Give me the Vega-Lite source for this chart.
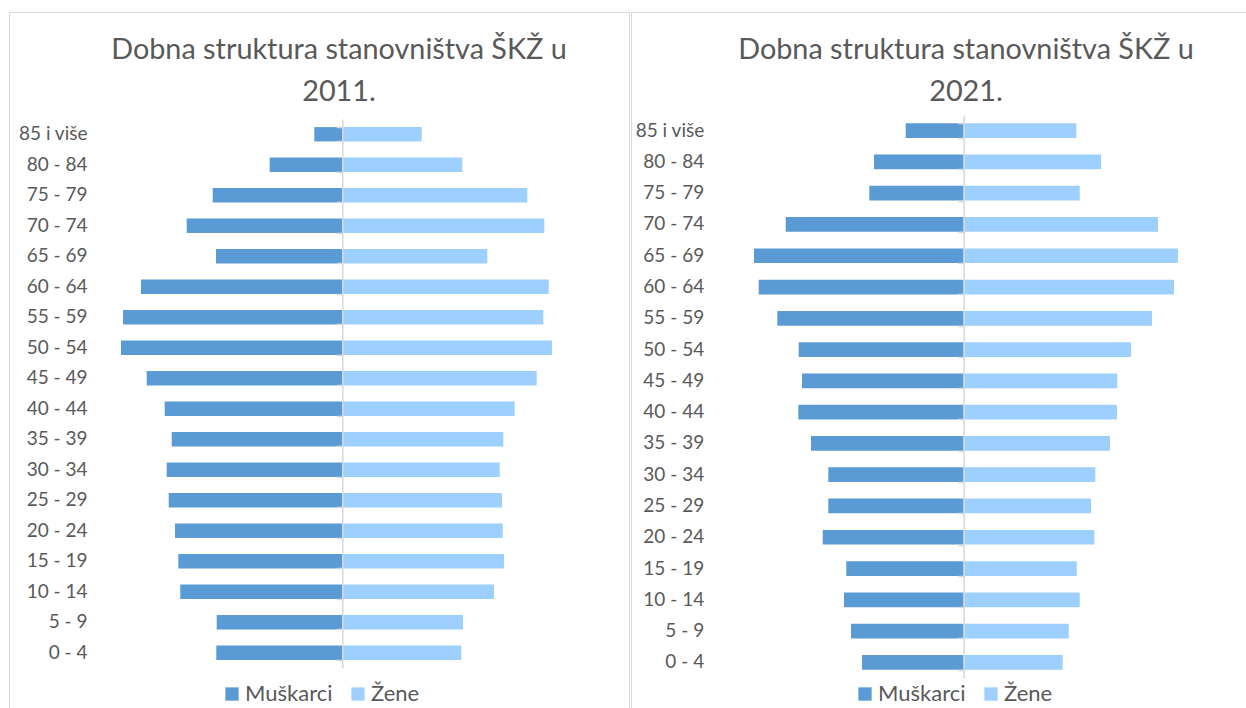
{
  "$schema": "https://vega.github.io/schema/vega-lite/v6.json",
  "padding": {"left": 8, "top": 11, "right": 0, "bottom": 0},
  "background": "white",
  "spacing": 0,
  "config": {
    "font": "Lato",
    "view": {"stroke": "#d9d9d9", "strokeWidth": 1},
    "title": {"font": "Lato", "fontSize": 28.8, "fontWeight": 400, "color": "#595959", "lineHeight": 42},
    "axis": {"labelFont": "Lato", "labelFontSize": 19, "labelColor": "#595959", "grid": false},
    "legend": {"labelFont": "Lato", "labelFontSize": 22, "labelColor": "#595959", "symbolType": "square", "symbolSize": 177, "symbolStrokeWidth": 0, "labelOffset": 2, "columnPadding": 14, "padding": 0}
  },
  "data": {"values": [
    {"godina": 2011, "dob": "85 i više", "spol": "Muškarci", "broj": 28},
    {"godina": 2011, "dob": "80 - 84", "spol": "Muškarci", "broj": 72.6},
    {"godina": 2011, "dob": "75 - 79", "spol": "Muškarci", "broj": 129.6},
    {"godina": 2011, "dob": "70 - 74", "spol": "Muškarci", "broj": 155.6},
    {"godina": 2011, "dob": "65 - 69", "spol": "Muškarci", "broj": 126.3},
    {"godina": 2011, "dob": "60 - 64", "spol": "Muškarci", "broj": 201.3},
    {"godina": 2011, "dob": "55 - 59", "spol": "Muškarci", "broj": 219.3},
    {"godina": 2011, "dob": "50 - 54", "spol": "Muškarci", "broj": 221.3},
    {"godina": 2011, "dob": "45 - 49", "spol": "Muškarci", "broj": 195.6},
    {"godina": 2011, "dob": "40 - 44", "spol": "Muškarci", "broj": 177.6},
    {"godina": 2011, "dob": "35 - 39", "spol": "Muškarci", "broj": 170.6},
    {"godina": 2011, "dob": "30 - 34", "spol": "Muškarci", "broj": 175.6},
    {"godina": 2011, "dob": "25 - 29", "spol": "Muškarci", "broj": 173.6},
    {"godina": 2011, "dob": "20 - 24", "spol": "Muškarci", "broj": 167.3},
    {"godina": 2011, "dob": "15 - 19", "spol": "Muškarci", "broj": 164},
    {"godina": 2011, "dob": "10 - 14", "spol": "Muškarci", "broj": 162},
    {"godina": 2011, "dob": "5 - 9", "spol": "Muškarci", "broj": 125.6},
    {"godina": 2011, "dob": "0 - 4", "spol": "Muškarci", "broj": 126},
    {"godina": 2011, "dob": "85 i više", "spol": "Žene", "broj": 79.4},
    {"godina": 2011, "dob": "80 - 84", "spol": "Žene", "broj": 120},
    {"godina": 2011, "dob": "75 - 79", "spol": "Žene", "broj": 185},
    {"godina": 2011, "dob": "70 - 74", "spol": "Žene", "broj": 202},
    {"godina": 2011, "dob": "65 - 69", "spol": "Žene", "broj": 145},
    {"godina": 2011, "dob": "60 - 64", "spol": "Žene", "broj": 206.4},
    {"godina": 2011, "dob": "55 - 59", "spol": "Žene", "broj": 201},
    {"godina": 2011, "dob": "50 - 54", "spol": "Žene", "broj": 209.7},
    {"godina": 2011, "dob": "45 - 49", "spol": "Žene", "broj": 194.4},
    {"godina": 2011, "dob": "40 - 44", "spol": "Žene", "broj": 172.4},
    {"godina": 2011, "dob": "35 - 39", "spol": "Žene", "broj": 161},
    {"godina": 2011, "dob": "30 - 34", "spol": "Žene", "broj": 157.4},
    {"godina": 2011, "dob": "25 - 29", "spol": "Žene", "broj": 159.7},
    {"godina": 2011, "dob": "20 - 24", "spol": "Žene", "broj": 160.4},
    {"godina": 2011, "dob": "15 - 19", "spol": "Žene", "broj": 161.7},
    {"godina": 2011, "dob": "10 - 14", "spol": "Žene", "broj": 151.7},
    {"godina": 2011, "dob": "5 - 9", "spol": "Žene", "broj": 120.7},
    {"godina": 2011, "dob": "0 - 4", "spol": "Žene", "broj": 119},
    {"godina": 2021, "dob": "85 i više", "spol": "Muškarci", "broj": 58},
    {"godina": 2021, "dob": "80 - 84", "spol": "Muškarci", "broj": 89.7},
    {"godina": 2021, "dob": "75 - 79", "spol": "Muškarci", "broj": 94.4},
    {"godina": 2021, "dob": "70 - 74", "spol": "Muškarci", "broj": 178},
    {"godina": 2021, "dob": "65 - 69", "spol": "Muškarci", "broj": 209.7},
    {"godina": 2021, "dob": "60 - 64", "spol": "Muškarci", "broj": 205},
    {"godina": 2021, "dob": "55 - 59", "spol": "Muškarci", "broj": 186.4},
    {"godina": 2021, "dob": "50 - 54", "spol": "Muškarci", "broj": 165},
    {"godina": 2021, "dob": "45 - 49", "spol": "Muškarci", "broj": 161.7},
    {"godina": 2021, "dob": "40 - 44", "spol": "Muškarci", "broj": 165.4},
    {"godina": 2021, "dob": "35 - 39", "spol": "Muškarci", "broj": 152.7},
    {"godina": 2021, "dob": "30 - 34", "spol": "Muškarci", "broj": 135.4},
    {"godina": 2021, "dob": "25 - 29", "spol": "Muškarci", "broj": 135.4},
    {"godina": 2021, "dob": "20 - 24", "spol": "Muškarci", "broj": 141},
    {"godina": 2021, "dob": "15 - 19", "spol": "Muškarci", "broj": 117.4},
    {"godina": 2021, "dob": "10 - 14", "spol": "Muškarci", "broj": 119.7},
    {"godina": 2021, "dob": "5 - 9", "spol": "Muškarci", "broj": 112.7},
    {"godina": 2021, "dob": "0 - 4", "spol": "Muškarci", "broj": 101.7},
    {"godina": 2021, "dob": "85 i više", "spol": "Žene", "broj": 112.6},
    {"godina": 2021, "dob": "80 - 84", "spol": "Žene", "broj": 137.3},
    {"godina": 2021, "dob": "75 - 79", "spol": "Žene", "broj": 116},
    {"godina": 2021, "dob": "70 - 74", "spol": "Žene", "broj": 194.3},
    {"godina": 2021, "dob": "65 - 69", "spol": "Žene", "broj": 214.3},
    {"godina": 2021, "dob": "60 - 64", "spol": "Žene", "broj": 210.3},
    {"godina": 2021, "dob": "55 - 59", "spol": "Žene", "broj": 188.3},
    {"godina": 2021, "dob": "50 - 54", "spol": "Žene", "broj": 167.3},
    {"godina": 2021, "dob": "45 - 49", "spol": "Žene", "broj": 153.6},
    {"godina": 2021, "dob": "40 - 44", "spol": "Žene", "broj": 153.3},
    {"godina": 2021, "dob": "35 - 39", "spol": "Žene", "broj": 146.3},
    {"godina": 2021, "dob": "30 - 34", "spol": "Žene", "broj": 131.6},
    {"godina": 2021, "dob": "25 - 29", "spol": "Žene", "broj": 127.3},
    {"godina": 2021, "dob": "20 - 24", "spol": "Žene", "broj": 130.6},
    {"godina": 2021, "dob": "15 - 19", "spol": "Žene", "broj": 113},
    {"godina": 2021, "dob": "10 - 14", "spol": "Žene", "broj": 116},
    {"godina": 2021, "dob": "5 - 9", "spol": "Žene", "broj": 105},
    {"godina": 2021, "dob": "0 - 4", "spol": "Žene", "broj": 99}
  ]},
  "resolve": {"scale": {"color": "independent"}},
  "hconcat": [
    {
      "width": 620,
      "height": 697,
      "title": {"text": ["Dobna struktura stanovništva ŠKŽ u", "2011."], "offset": -95, "dx": 20, "anchor": "middle"},
      "transform": [{"filter": "datum.godina == 2011"}],
      "resolve": {"scale": {"x": "independent"}, "axis": {"y": "independent"}},
      "layer": [
        {
          "transform": [{"filter": "datum.spol == 'Muškarci'"}],
          "mark": {"type": "bar"},
          "encoding": {
            "y": {"field": "dob", "type": "nominal",
              "scale": {"domain": ["85 i više", "80 - 84", "75 - 79", "70 - 74", "65 - 69", "60 - 64", "55 - 59", "50 - 54", "45 - 49", "40 - 44", "35 - 39", "30 - 34", "25 - 29", "20 - 24", "15 - 19", "10 - 14", "5 - 9", "0 - 4"], "range": [107, 656], "paddingInner": 0.53, "paddingOuter": 0.265},
              "axis": {"title": null, "orient": "left", "offset": -78, "domain": false, "ticks": false, "tickSize": 0, "labelPadding": 0}},
            "x": {"field": "broj", "type": "quantitative", "scale": {"domain": [0, 250], "range": [333.3, 83.3]}, "axis": null},
            "color": {"field": "spol", "type": "nominal", "scale": {"domain": ["Muškarci", "Žene"], "range": ["#5B9BD5", "#9DCFFF"]},
              "legend": {"orient": "none", "legendX": 212, "legendY": 671, "direction": "horizontal", "title": null}}
          }
        },
        {
          "transform": [{"filter": "datum.spol == 'Žene'"}],
          "mark": {"type": "bar"},
          "encoding": {
            "y": {"field": "dob", "type": "nominal",
              "scale": {"domain": ["85 i više", "80 - 84", "75 - 79", "70 - 74", "65 - 69", "60 - 64", "55 - 59", "50 - 54", "45 - 49", "40 - 44", "35 - 39", "30 - 34", "25 - 29", "20 - 24", "15 - 19", "10 - 14", "5 - 9", "0 - 4"], "range": [107, 656], "paddingInner": 0.53, "paddingOuter": 0.265},
              "axis": {"title": null, "orient": "left", "offset": -333.3, "labels": false, "domain": true, "domainColor": "#d9d9d9", "domainWidth": 1.5, "ticks": true, "tickColor": "#d9d9d9", "tickSize": 6, "tickWidth": 1.5, "tickBand": "extent", "zindex": 1}},
            "x": {"field": "broj", "type": "quantitative", "scale": {"domain": [0, 250], "range": [333.3, 583.3]}, "axis": null},
            "color": {"field": "spol", "type": "nominal", "scale": {"domain": ["Muškarci", "Žene"], "range": ["#5B9BD5", "#9DCFFF"]},
              "legend": {"orient": "none", "legendX": 212, "legendY": 671, "direction": "horizontal", "title": null}}
          }
        }
      ]
    },
    {
      "width": 616,
      "height": 697,
      "title": {"text": ["Dobna struktura stanovništva ŠKŽ u", "2021."], "offset": -95, "dx": 27, "anchor": "middle"},
      "transform": [{"filter": "datum.godina == 2021"}],
      "resolve": {"scale": {"x": "independent"}, "axis": {"y": "independent"}},
      "layer": [
        {
          "transform": [{"filter": "datum.spol == 'Muškarci'"}],
          "mark": {"type": "bar"},
          "encoding": {
            "y": {"field": "dob", "type": "nominal",
              "scale": {"domain": ["85 i više", "80 - 84", "75 - 79", "70 - 74", "65 - 69", "60 - 64", "55 - 59", "50 - 54", "45 - 49", "40 - 44", "35 - 39", "30 - 34", "25 - 29", "20 - 24", "15 - 19", "10 - 14", "5 - 9", "0 - 4"], "range": [103, 666], "paddingInner": 0.53, "paddingOuter": 0.265},
              "axis": {"title": null, "orient": "left", "offset": -72.7, "domain": false, "ticks": false, "tickSize": 0, "labelPadding": 0}},
            "x": {"field": "broj", "type": "quantitative", "scale": {"domain": [0, 250], "range": [332.7, 82.7]}, "axis": null},
            "color": {"field": "spol", "type": "nominal", "scale": {"domain": ["Muškarci", "Žene"], "range": ["#5B9BD5", "#9DCFFF"]},
              "legend": {"orient": "none", "legendX": 223, "legendY": 671, "direction": "horizontal", "title": null}}
          }
        },
        {
          "transform": [{"filter": "datum.spol == 'Žene'"}],
          "mark": {"type": "bar"},
          "encoding": {
            "y": {"field": "dob", "type": "nominal",
              "scale": {"domain": ["85 i više", "80 - 84", "75 - 79", "70 - 74", "65 - 69", "60 - 64", "55 - 59", "50 - 54", "45 - 49", "40 - 44", "35 - 39", "30 - 34", "25 - 29", "20 - 24", "15 - 19", "10 - 14", "5 - 9", "0 - 4"], "range": [103, 666], "paddingInner": 0.53, "paddingOuter": 0.265},
              "axis": {"title": null, "orient": "left", "offset": -332.7, "labels": false, "domain": true, "domainColor": "#d9d9d9", "domainWidth": 1.5, "ticks": true, "tickColor": "#d9d9d9", "tickSize": 6, "tickWidth": 1.5, "tickBand": "extent", "zindex": 1}},
            "x": {"field": "broj", "type": "quantitative", "scale": {"domain": [0, 250], "range": [332.7, 582.7]}, "axis": null},
            "color": {"field": "spol", "type": "nominal", "scale": {"domain": ["Muškarci", "Žene"], "range": ["#5B9BD5", "#9DCFFF"]},
              "legend": {"orient": "none", "legendX": 223, "legendY": 671, "direction": "horizontal", "title": null}}
          }
        }
      ]
    }
  ]
}
